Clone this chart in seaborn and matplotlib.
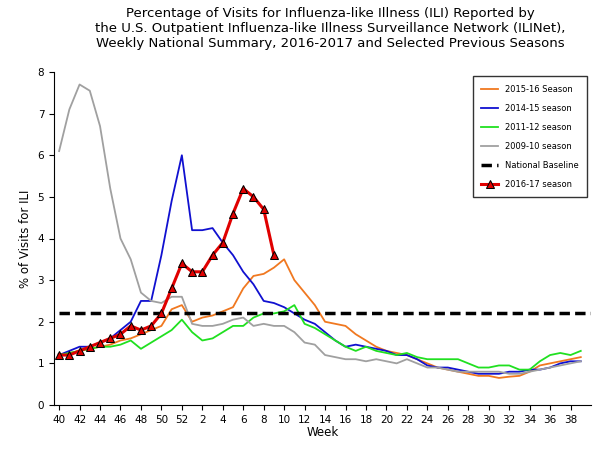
import matplotlib
matplotlib.use("Agg")
import matplotlib.pyplot as plt
import seaborn as sns
import pandas as pd

weeks = list(range(40, 53)) + list(range(1, 40))
tick_labels = [str(w) for w in weeks]

s1516 = [1.2,1.25,1.3,1.35,1.4,1.45,1.55,1.6,1.7,1.8,1.9,2.3,2.4,2.0,2.1,2.15,2.25,2.35,2.8,3.1,3.15,3.3,3.5,
         3.0,2.7,2.4,2.0,1.95,1.9,1.7,1.55,1.4,1.3,1.25,1.2,1.1,1.0,0.9,0.85,0.8,0.75,0.7,0.7,0.65,0.68,0.7,0.8,0.95,1.0,1.05,1.1,1.15]
s1415 = [1.2,1.3,1.4,1.4,1.5,1.6,1.8,2.0,2.5,2.5,3.6,4.9,6.0,4.2,4.2,4.25,3.9,3.6,3.2,2.9,2.5,2.45,2.35,
         2.2,2.05,1.95,1.75,1.55,1.4,1.45,1.4,1.35,1.3,1.2,1.2,1.1,0.95,0.9,0.9,0.85,0.8,0.75,0.75,0.75,0.8,0.8,0.85,0.85,0.9,1.0,1.05,1.05]
s1112 = [1.2,1.25,1.3,1.35,1.4,1.4,1.45,1.55,1.35,1.5,1.65,1.8,2.05,1.75,1.55,1.6,1.75,1.9,1.9,2.1,2.2,2.2,2.25,
         2.4,1.95,1.85,1.7,1.55,1.4,1.3,1.4,1.3,1.25,1.2,1.25,1.15,1.1,1.1,1.1,1.1,1.0,0.9,0.9,0.95,0.95,0.85,0.85,1.05,1.2,1.25,1.2,1.3]
s0910 = [6.1,7.1,7.7,7.55,6.7,5.2,4.0,3.5,2.7,2.5,2.45,2.6,2.6,1.95,1.9,1.9,1.95,2.05,2.1,1.9,1.95,1.9,1.9,
         1.75,1.5,1.45,1.2,1.15,1.1,1.1,1.05,1.1,1.05,1.0,1.1,1.0,0.9,0.9,0.85,0.8,0.8,0.8,0.8,0.8,0.75,0.75,0.8,0.85,0.9,0.95,1.0,1.05]
s1617 = [1.2,1.2,1.3,1.4,1.5,1.6,1.7,1.9,1.8,1.9,2.2,2.8,3.4,3.2,3.2,3.6,3.9,4.6,5.2,5.0,4.7,3.6]
baseline = 2.2

fig, ax = plt.subplots(figsize=(6, 4.5), dpi=100)
pos = list(range(len(weeks)))
series = [("2015-16 Season", s1516, "#F07820"), ("2014-15 season", s1415, "#1010D0"),
          ("2011-12 season", s1112, "#20E020"), ("2009-10 season", s0910, "#A0A0A0")]
for name, vals, c in series:
    sns.lineplot(x=pos, y=vals, ax=ax, color=c, lw=1.3, label=name)
sns.lineplot(x=[pos[0], pos[-1] + 1.5], y=[baseline, baseline], ax=ax, color="black", lw=2.5,
             linestyle=(0, (3, 1.5)), label="National Baseline")
sns.lineplot(x=pos[:len(s1617)], y=s1617, ax=ax, color="#E00000", lw=2.2, marker="^",
             markersize=5.5, markerfacecolor="#E00000", markeredgecolor="black", label="2016-17 season")

ax.set_xlim(-0.5, 52)
ax.set_ylim(0, 8)
ax.set_xticks(pos[::2])
ax.set_xticklabels(tick_labels[::2], fontsize=7.5)
ax.tick_params(axis="y", labelsize=7.5)
ax.set_xlabel("Week", fontsize=8.5, labelpad=1)
ax.set_ylabel("% of Visits for ILI", fontsize=8.5)
for s in ["top", "right"]:
    ax.spines[s].set_visible(False)
fig.suptitle("Percentage of Visits for Influenza-like Illness (ILI) Reported by\n"
             "the U.S. Outpatient Influenza-like Illness Surveillance Network (ILINet),\n"
             "Weekly National Summary, 2016-2017 and Selected Previous Seasons",
             fontsize=9.5, y=0.985, x=0.55)
leg = ax.legend(loc="upper right", fontsize=6, frameon=True, fancybox=False, edgecolor="black",
                borderpad=1.0, labelspacing=1.2)
fig.subplots_adjust(left=0.09, right=0.985, top=0.84, bottom=0.1)
fig.savefig("out.png")
